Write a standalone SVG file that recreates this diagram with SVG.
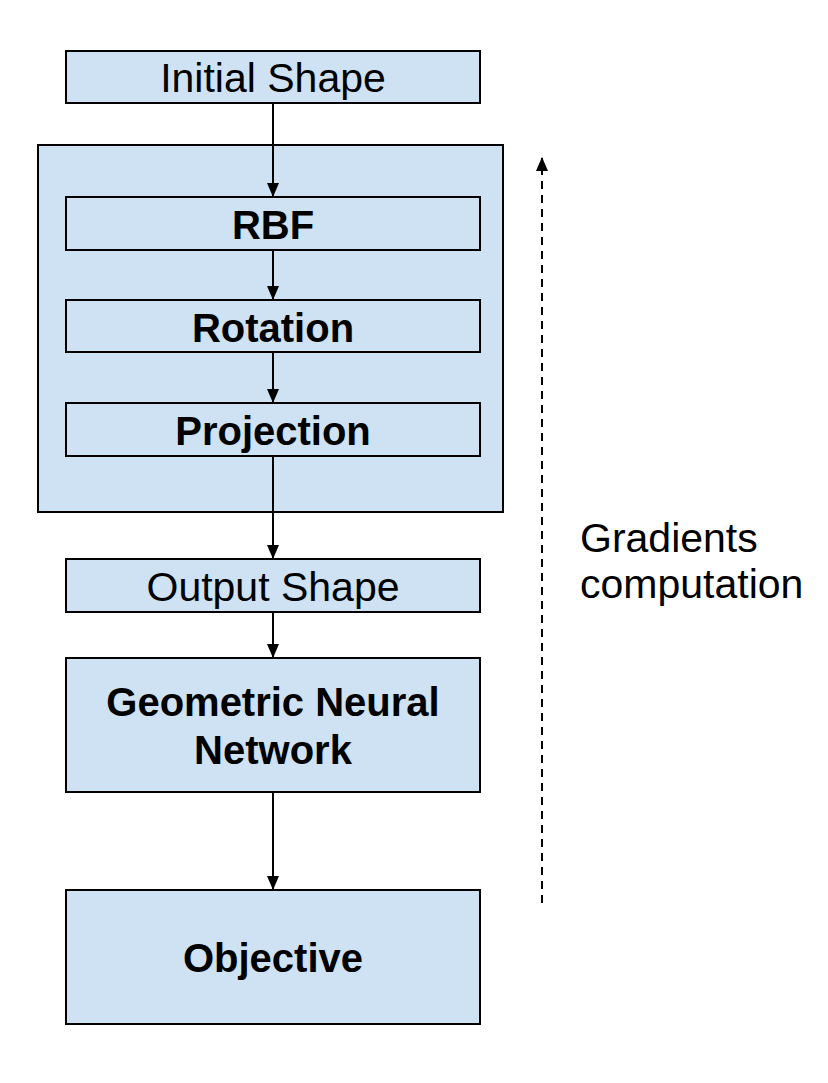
<svg xmlns="http://www.w3.org/2000/svg" width="828" height="1083" viewBox="0 0 828 1083">
<style>
.box{fill:#cfe2f3;stroke:#000;stroke-width:2}
.t{font-family:"Liberation Sans",Arial,sans-serif;font-size:41px;fill:#000;text-anchor:middle}
.b{font-weight:bold;font-size:40px}
.c{stroke:#000;stroke-width:2;fill:none}
</style>
<defs>
<marker id="ah" markerWidth="14" markerHeight="12" refX="13" refY="6" orient="auto" markerUnits="userSpaceOnUse" viewBox="0 0 14 12">
<path d="M0,0 L14,6 L0,12 Z" fill="#000"/>
</marker>
</defs>
<g id="container"><rect class="box" x="38" y="145" width="465" height="367"/></g>
<g id="initial"><rect class="box" x="66" y="51" width="414" height="52"/><text class="t" x="273" y="92">Initial Shape</text></g>
<g id="rbf"><rect class="box" x="66" y="197" width="414" height="53"/><text class="t b" x="273" y="239">RBF</text></g>
<g id="rotation"><rect class="box" x="66" y="300" width="414" height="52"/><text class="t b" x="273" y="342">Rotation</text></g>
<g id="projection"><rect class="box" x="66" y="403" width="414" height="53"/><text class="t b" x="273" y="445">Projection</text></g>
<g id="output"><rect class="box" x="66" y="559" width="414" height="53"/><text class="t" x="273" y="601">Output Shape</text></g>
<g id="gnn"><rect class="box" x="66" y="658" width="414" height="134"/><text class="t b" x="273" y="716">Geometric Neural</text><text class="t b" x="273" y="764">Network</text></g>
<g id="objective"><rect class="box" x="66" y="890" width="414" height="134"/><text class="t b" x="273" y="972">Objective</text></g>
<g id="label"><text class="t" style="text-anchor:start" x="580" y="552">Gradients</text><text class="t" style="text-anchor:start" x="580" y="598">computation</text></g>
<g id="connectors">
<line class="c" x1="273" y1="103" x2="273" y2="196" marker-end="url(#ah)"/>
<line class="c" x1="273" y1="250" x2="273" y2="299" marker-end="url(#ah)"/>
<line class="c" x1="273" y1="352" x2="273" y2="402" marker-end="url(#ah)"/>
<line class="c" x1="273" y1="456" x2="273" y2="558" marker-end="url(#ah)"/>
<line class="c" x1="273" y1="612" x2="273" y2="657" marker-end="url(#ah)"/>
<line class="c" x1="273" y1="792" x2="273" y2="889" marker-end="url(#ah)"/>
<line class="c" x1="542" y1="903" x2="542" y2="158" stroke-dasharray="8,6" marker-end="url(#ah)"/>
</g>
</svg>
